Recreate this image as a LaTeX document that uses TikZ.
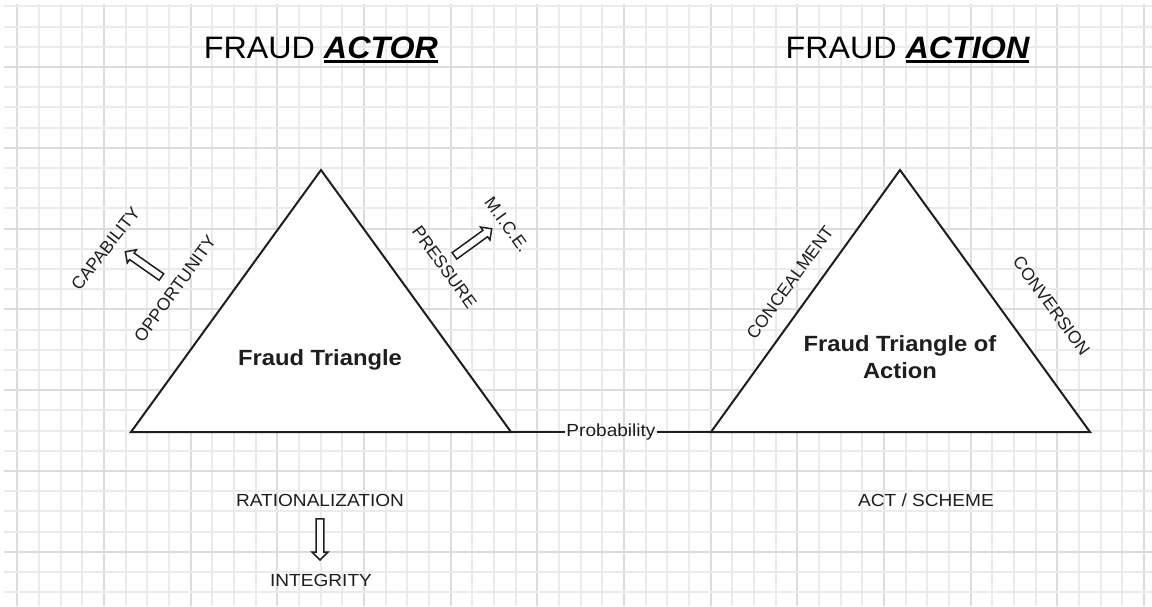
\documentclass[tikz,border=0pt]{standalone}
\usepackage{fontspec}
\setmainfont{Liberation Sans}
\newfontfamily\titlefont[FakeStretch=1.04]{Liberation Sans}
\newfontfamily\hfont[FakeStretch=1.09]{Liberation Sans}
\newfontfamily\bfont[FakeStretch=1.08]{Liberation Sans}
\usetikzlibrary{shapes.arrows}
% thick underline drawn just below the baseline
\newcommand\ulbold[1]{\setbox0\hbox{#1}\rlap{\rule[-4.4pt]{\wd0}{3pt}}\box0}
\definecolor{gridminor}{HTML}{EBEBEB}
\definecolor{gridmajor}{HTML}{DCDCDC}
\definecolor{ink}{HTML}{1E1E1E}
\begin{document}
\begin{tikzpicture}[x=1pt,y=-1pt,
  title/.style={font=\titlefont\fontsize{31}{36}\selectfont, text=black, inner sep=0pt},
  lbl/.style={font=\fontsize{17.5}{20}\selectfont, text=ink, inner sep=1pt},
  hlbl/.style={font=\hfont\fontsize{17.5}{20}\selectfont, text=ink, inner sep=1pt},
  boldlbl/.style={font=\bfont\bfseries\fontsize{22}{27}\selectfont, text=ink, align=center, inner sep=0pt},
  tri/.style={draw=ink, line width=2pt, fill=white, line join=miter},
  link/.style={draw=ink, line width=1.6pt},
  gridline/.style={line width=2pt},
  hollow/.style={single arrow, draw=ink, line width=1.5pt, fill=white, inner sep=3.2pt,
    minimum height=44pt, single arrow head extend=4pt}
]
\fill[white] (0,0) rectangle (1152,606);
\useasboundingbox (0,0) rectangle (1152,606);

% graph-paper background: minor lines, every fourth one darker
\foreach \k in {0,...,52}{
  \pgfmathtruncatemacro\gm{mod(\k,4)}
  \pgfmathtruncatemacro\gx{round(17.3+21.67*\k)}
  \ifnum\gm=0 \def\gc{gridmajor}\else\def\gc{gridminor}\fi
  \draw[\gc, gridline] (\gx,4) -- (\gx,606);
}
\foreach \k in {0,...,29}{
  \pgfmathtruncatemacro\gm{mod(\k,4)}
  \pgfmathtruncatemacro\gy{round(6.4+20.2*\k)}
  \ifnum\gm=3 \def\gc{gridmajor}\else\def\gc{gridminor}\fi
  \draw[\gc, gridline] (4,\gy) -- (1152,\gy);
}

% titles
\node[title, anchor=base] (tactor) at (321,58.3) {FRAUD \ulbold{\bfseries\itshape ACTOR}};
\node[title, anchor=base] (taction) at (907.5,58.3) {FRAUD \ulbold{\bfseries\itshape ACTION}};

% triangle corners
\coordinate (A1) at (321,170);
\coordinate (A2) at (131,432);
\coordinate (A3) at (511,432);
\coordinate (B1) at (900,170);
\coordinate (B2) at (711,432);
\coordinate (B3) at (1090,432);

\draw[tri] (A1) -- (A2) -- (A3) -- cycle;
\draw[tri] (B1) -- (B2) -- (B3) -- cycle;

\node[boldlbl, anchor=base] (ft) at (320,365.7) {Fraud Triangle};
\node[boldlbl] (fta) at (900,357) {Fraud Triangle of\\Action};

% link between the two triangles
\node[hlbl, anchor=base] (prob) at (611,436) {Probability};
\draw[link] (A3) -- (prob.west |- A3);
\draw[link] (prob.east |- B2) -- (B2);

% fraud triangle side labels
\node[lbl, rotate=52] (cap) at (105.5,248.5) {CAPABILITY};
\node[lbl, rotate=54] (opp) at (175,289) {OPPORTUNITY};
\node[hollow, rotate=145] (a1) at (145,265.5) {};
\node[lbl, rotate=-54] (pres) at (444.5,267) {PRESSURE};
\node[lbl, rotate=-54] (mice) at (507,224.5) {M.I.C.E.};
\node[hollow, rotate=36, minimum height=46pt] (a2) at (471.5,243.5) {};

\node[hlbl, anchor=base] (rat) at (320,506) {RATIONALIZATION};
\node[hollow, rotate=-90, minimum height=41pt] (a3) at (320,537.5) {};
\node[hlbl, anchor=base] (integ) at (321,586.7) {INTEGRITY};

% fraud triangle of action side labels
\node[lbl, rotate=54] (conc) at (790,282.5) {CONCEALMENT};
\node[lbl, rotate=-54] (conv) at (1051.5,306) {CONVERSION};
\node[hlbl, anchor=base] (act) at (926,506) {ACT / SCHEME};
\end{tikzpicture}
\end{document}
